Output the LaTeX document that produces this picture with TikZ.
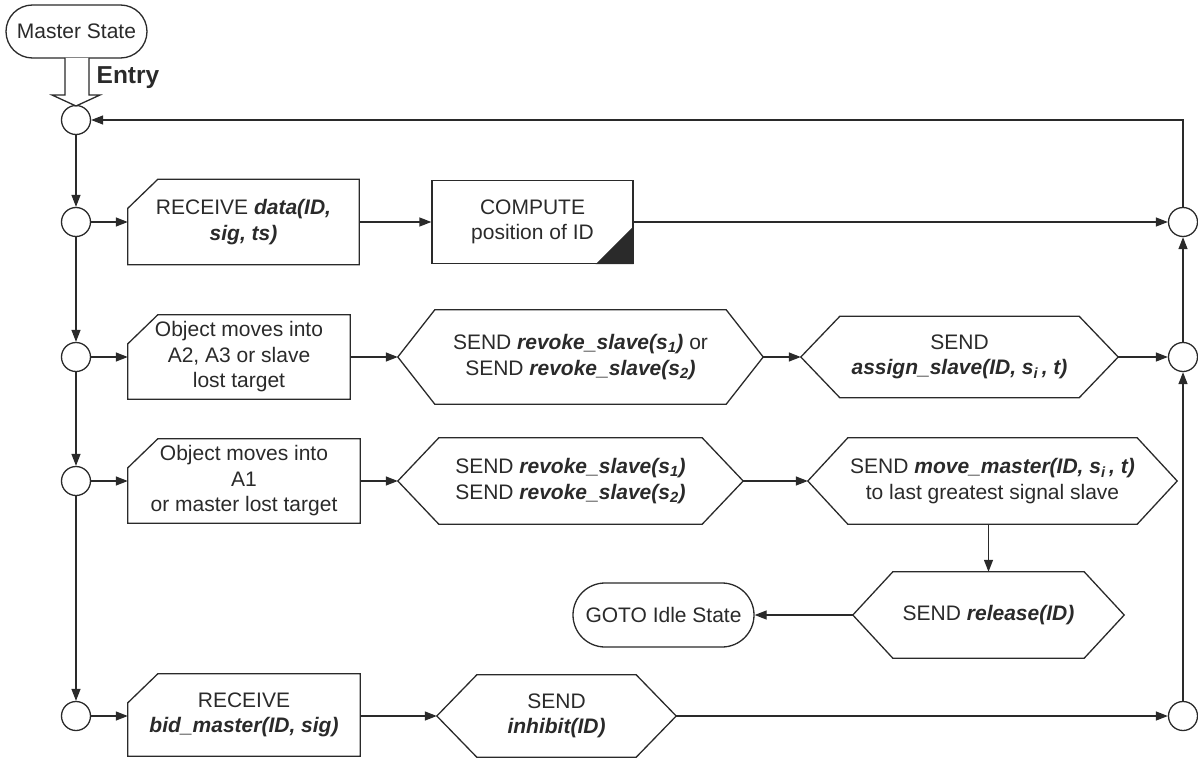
\documentclass[tikz,border=0pt]{standalone}
\usepackage{fontspec}
\setmainfont{Liberation Sans}
\usetikzlibrary{arrows.meta,calc,shapes.misc}
\definecolor{ink}{HTML}{2A2A2A}
\newcommand\hexo[2]{\draw[shapeline] (#1.west) -- ($(#1.north west)+(#2,0)$) -- ($(#1.north east)+(-#2,0)$) -- (#1.east) -- ($(#1.south east)+(-#2,0)$) -- ($(#1.south west)+(#2,0)$) -- cycle;}
\newcommand\chamf[1]{\draw[shapeline] ($(#1.north west)+(0,29)$) -- ($(#1.north west)+(30,0)$) -- (#1.north east) -- (#1.south east) -- (#1.south west) -- cycle;}
\newcommand\bi[1]{{\bfseries\itshape #1}}
\begin{document}
\begin{tikzpicture}[x=1pt,y=-1pt,
  every node/.style={font=\fontsize{21}{25.5}\selectfont, text=ink, inner sep=0pt, align=center},
  shapeline/.style={draw=ink, line width=1.3pt, line join=miter},
  conn/.style={circle, draw=ink, line width=1.3pt, minimum size=29pt},
  statebox/.style={rounded rectangle, draw=ink, line width=1.3pt},
  arr/.style={draw=ink, line width=1.3pt, -{Triangle[length=12pt,width=9pt]}}]
\useasboundingbox (0,0) rectangle (1198,757);

% start
\node[statebox, minimum width=141pt, minimum height=53pt] (ms) at (76.5,31.5) {Master State};
\node[conn] (c0) at (76,120) {};
\draw[shapeline, fill=white] (65,58) -- (65,95) -- (52,95) -- (76,106) -- (100,95) -- (89,95) -- (89,58);
\node[font=\fontsize{24.5}{26}\selectfont\bfseries] (entry) at (128,78) {Entry};

% connector circles
\node[conn] (L1) at (76,222) {};
\node[conn] (L2) at (76,357) {};
\node[conn] (L3) at (76,481) {};
\node[conn] (L5) at (76,716) {};
\node[conn] (R1) at (1183,222) {};
\node[conn] (R2) at (1183,357) {};
\node[conn] (R5) at (1183,716) {};

% row 1
\node[minimum width=231pt, minimum height=85pt] (recv1) at (243.5,222) {RECEIVE \bi{data(ID,}\\ \bi{sig, ts)}};
\chamf{recv1}
\node[draw=ink, line width=1.3pt, minimum width=201pt, minimum height=83pt] (comp) at (532.5,222) {COMPUTE\\position of ID};
\fill[ink] ($(comp.south east)+(-38,0)$) -- ($(comp.south east)+(0,-38)$) -- (comp.south east) -- cycle;

% row 2
\node[minimum width=222pt, minimum height=84pt] (obj2) at (239,357) {Object moves into\\A2, A3 or slave\\lost target};
\chamf{obj2}
\node[minimum width=365pt, minimum height=94pt] (rev2) at (580.5,357) {SEND \bi{revoke\_slave(s\textsubscript{1})} or\\SEND \bi{revoke\_slave(s\textsubscript{2})}};
\hexo{rev2}{37}
\node[minimum width=317pt, minimum height=81pt] (asg) at (959.5,357) {SEND\\\bi{assign\_slave(ID, s\textsubscript{i}\,, t)}};
\hexo{asg}{39}

% row 3
\node[minimum width=232pt, minimum height=84pt] (obj3) at (244,481) {Object moves into\\A1\\or master lost target};
\chamf{obj3}
\node[minimum width=345pt, minimum height=86pt] (rev3) at (570.5,481) {SEND \bi{revoke\_slave(s\textsubscript{1})}\\SEND \bi{revoke\_slave(s\textsubscript{2})}};
\hexo{rev3}{41}
\node[minimum width=369pt, minimum height=86pt] (mov) at (992.5,481) {SEND \bi{move\_master(ID, s\textsubscript{i}\,, t)}\\to last greatest signal slave};
\hexo{mov}{40}

% release row
\node[minimum width=271pt, minimum height=86pt] (rel) at (988.5,615) {SEND \bi{release(ID)}};
\hexo{rel}{40}
\node[statebox, minimum width=181pt, minimum height=64pt] (goto) at (663.5,615) {GOTO Idle State};

% row 5
\node[minimum width=232pt, minimum height=82pt] (bid) at (244,715) {RECEIVE\\\bi{bid\_master(ID, sig)}};
\chamf{bid}
\node[minimum width=239pt, minimum height=82pt] (inh) at (556.5,716) {SEND\\\bi{inhibit(ID)}};
\hexo{inh}{40}

% left column
\draw[arr] (c0.south) -- (L1.north);
\draw[arr] (L1.south) -- (L2.north);
\draw[arr] (L2.south) -- (L3.north);
\draw[arr] (L3.south) -- (L5.north);

% rows
\draw[arr] (L1.east) -- (recv1.west |- L1);
\draw[arr] (recv1.east |- L1) -- (comp.west |- L1);
\draw[arr] (comp.east |- L1) -- (R1.west);

\draw[arr] (L2.east) -- (obj2.west |- L2);
\draw[arr] (obj2.east |- L2) -- (rev2.west);
\draw[arr] (rev2.east) -- (asg.west);
\draw[arr] (asg.east) -- (R2.west);

\draw[arr] (L3.east) -- (obj3.west |- L3);
\draw[arr] (obj3.east |- L3) -- (rev3.west);
\draw[arr] (rev3.east) -- (mov.west);
\draw[arr] (rel.north |- mov.south) -- (rel.north);
\draw[arr] (rel.west) -- (goto.east);

\draw[arr] (L5.east) -- (bid.west |- L5);
\draw[arr] (bid.east |- L5) -- (inh.west);
\draw[arr] (inh.east) -- (R5.west);

% right column
\draw[arr] (R5.north) -- (R2.south);
\draw[arr] (R2.north) -- (R1.south);
\draw[arr] (R1.north) -- (R1.north |- c0) -- (c0.east);
\end{tikzpicture}
\end{document}
